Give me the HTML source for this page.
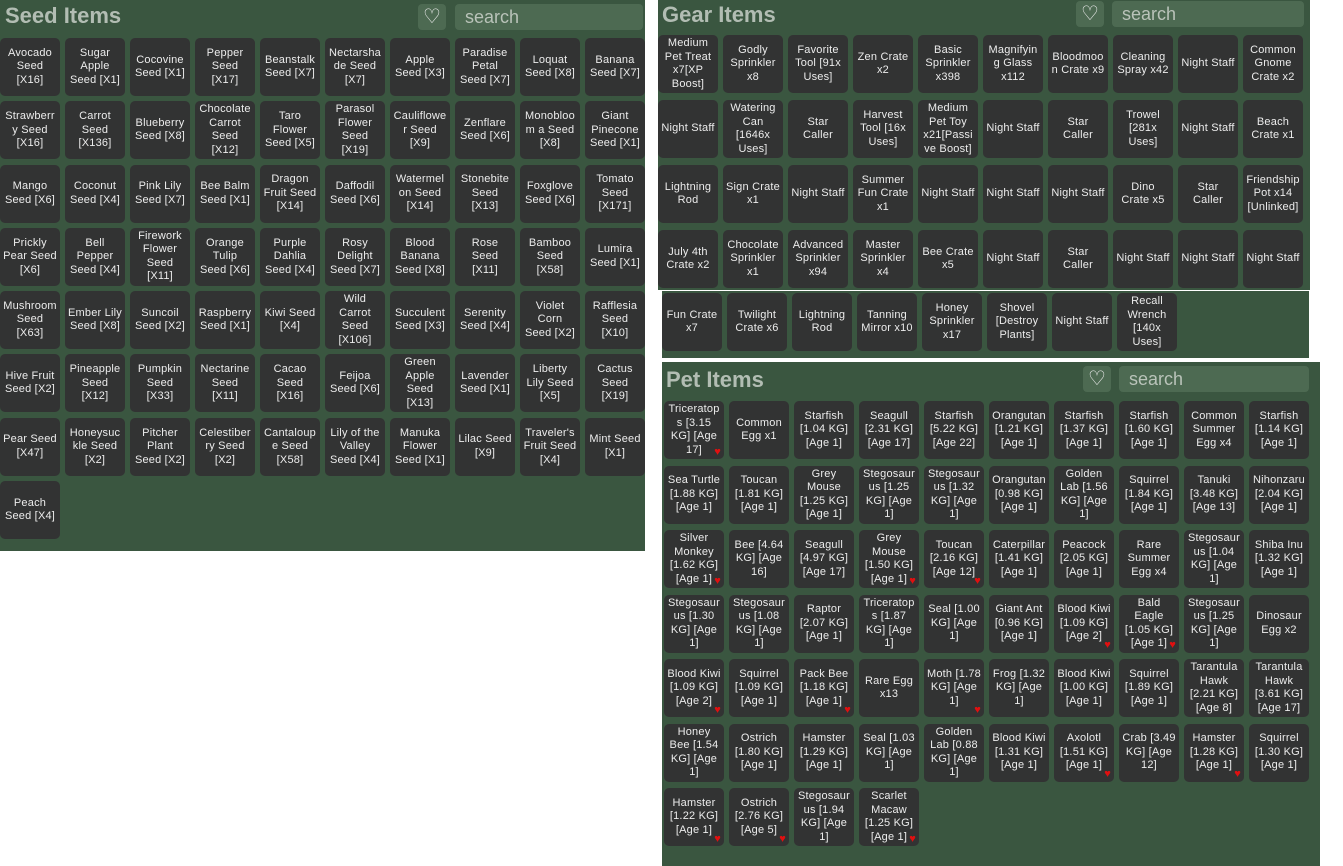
<!DOCTYPE html><html><head><style>
body{margin:0;width:1343px;height:866px;background:#fff;position:relative;overflow:hidden;font-family:"Liberation Sans",sans-serif}
.p{position:absolute;background:#3a5640;overflow:hidden}
.h{position:absolute;color:#c8cfc8;font-weight:bold;font-size:22px;opacity:.85}
.s{position:absolute;background:#4d6a52;border-radius:4px;color:#b9c3b9;font-size:18px;padding-left:10px;box-sizing:border-box;height:26px;line-height:26px}
.hb{position:absolute;width:28px;height:26px;background:#4d6a52;border-radius:4px;color:#eee;font-size:20px;text-align:center;line-height:26px}
.g{position:absolute;display:grid;grid-template-columns:repeat(10,60px);column-gap:5px;grid-auto-rows:58px}
.g div{background:#323333;border-radius:5px;color:#ececec;font-size:11px;line-height:13.5px;display:flex;align-items:center;justify-content:center;text-align:center;padding:0 3px;overflow:hidden;position:relative;overflow-wrap:anywhere;letter-spacing:.2px}
.r:after{content:"♥";position:absolute;right:3px;bottom:0;color:#e01010;font-size:11px}
</style></head><body>
<div class="p" style="left:0;top:0;width:645px;height:551px"></div>
<div class="h" style="left:5px;top:3px">Seed Items</div>
<div class="hb" style="left:418px;top:4px">♡</div>
<div class="s" style="left:455px;top:4px;width:188px">search</div>
<div class="g" style="left:0;top:38px;row-gap:5.3px">
<div>Avocado Seed [X16]</div><div>Sugar Apple Seed [X1]</div><div>Cocovine Seed [X1]</div><div>Pepper Seed [X17]</div><div>Beanstalk Seed [X7]</div><div>Nectarshade Seed [X7]</div><div>Apple Seed [X3]</div><div>Paradise Petal Seed [X7]</div><div>Loquat Seed [X8]</div><div>Banana Seed [X7]</div>
<div>Strawberry Seed [X16]</div><div>Carrot Seed [X136]</div><div>Blueberry Seed [X8]</div><div>Chocolate Carrot Seed [X12]</div><div>Taro Flower Seed [X5]</div><div>Parasol Flower Seed [X19]</div><div>Cauliflower Seed [X9]</div><div>Zenflare Seed [X6]</div><div>Monobloom a Seed [X8]</div><div>Giant Pinecone Seed [X1]</div>
<div>Mango Seed [X6]</div><div>Coconut Seed [X4]</div><div>Pink Lily Seed [X7]</div><div>Bee Balm Seed [X1]</div><div>Dragon Fruit Seed [X14]</div><div>Daffodil Seed [X6]</div><div>Watermelon Seed [X14]</div><div>Stonebite Seed [X13]</div><div>Foxglove Seed [X6]</div><div>Tomato Seed [X171]</div>
<div>Prickly Pear Seed [X6]</div><div>Bell Pepper Seed [X4]</div><div>Firework Flower Seed [X11]</div><div>Orange Tulip Seed [X6]</div><div>Purple Dahlia Seed [X4]</div><div>Rosy Delight Seed [X7]</div><div>Blood Banana Seed [X8]</div><div>Rose Seed [X11]</div><div>Bamboo Seed [X58]</div><div>Lumira Seed [X1]</div>
<div>Mushroom Seed [X63]</div><div>Ember Lily Seed [X8]</div><div>Suncoil Seed [X2]</div><div>Raspberry Seed [X1]</div><div>Kiwi Seed [X4]</div><div>Wild Carrot Seed [X106]</div><div>Succulent Seed [X3]</div><div>Serenity Seed [X4]</div><div>Violet Corn Seed [X2]</div><div>Rafflesia Seed [X10]</div>
<div>Hive Fruit Seed [X2]</div><div>Pineapple Seed [X12]</div><div>Pumpkin Seed [X33]</div><div>Nectarine Seed [X11]</div><div>Cacao Seed [X16]</div><div>Feijoa Seed [X6]</div><div>Green Apple Seed [X13]</div><div>Lavender Seed [X1]</div><div>Liberty Lily Seed [X5]</div><div>Cactus Seed [X19]</div>
<div>Pear Seed [X47]</div><div>Honeysuckle Seed [X2]</div><div>Pitcher Plant Seed [X2]</div><div>Celestiberry Seed [X2]</div><div>Cantaloupe Seed [X58]</div><div>Lily of the Valley Seed [X4]</div><div>Manuka Flower Seed [X1]</div><div>Lilac Seed [X9]</div><div>Traveler's Fruit Seed [X4]</div><div>Mint Seed [X1]</div>
<div>Peach Seed [X4]</div>
</div>

<div class="p" style="left:658px;top:0;width:652px;height:290px"></div>
<div class="h" style="left:662px;top:2px">Gear Items</div>
<div class="hb" style="left:1076px;top:1px">♡</div>
<div class="s" style="left:1112px;top:1px;width:192px">search</div>
<div class="g" style="left:658px;top:35px;row-gap:7px">
<div>Medium Pet Treat x7[XP Boost]</div><div>Godly Sprinkler x8</div><div>Favorite Tool [91x Uses]</div><div>Zen Crate x2</div><div>Basic Sprinkler x398</div><div>Magnifying Glass x112</div><div>Bloodmoon Crate x9</div><div>Cleaning Spray x42</div><div>Night Staff</div><div>Common Gnome Crate x2</div>
<div>Night Staff</div><div>Watering Can [1646x Uses]</div><div>Star Caller</div><div>Harvest Tool [16x Uses]</div><div>Medium Pet Toy x21[Passive Boost]</div><div>Night Staff</div><div>Star Caller</div><div>Trowel [281x Uses]</div><div>Night Staff</div><div>Beach Crate x1</div>
<div>Lightning Rod</div><div>Sign Crate x1</div><div>Night Staff</div><div>Summer Fun Crate x1</div><div>Night Staff</div><div>Night Staff</div><div>Night Staff</div><div>Dino Crate x5</div><div>Star Caller</div><div>Friendship Pot x14 [Unlinked]</div>
<div>July 4th Crate x2</div><div>Chocolate Sprinkler x1</div><div>Advanced Sprinkler x94</div><div>Master Sprinkler x4</div><div>Bee Crate x5</div><div>Night Staff</div><div>Star Caller</div><div>Night Staff</div><div>Night Staff</div><div>Night Staff</div>
</div>
<div class="p" style="left:662px;top:291px;width:647px;height:67px"></div>
<div class="g" style="left:662px;top:293px">
<div>Fun Crate x7</div><div>Twilight Crate x6</div><div>Lightning Rod</div><div>Tanning Mirror x10</div><div>Honey Sprinkler x17</div><div>Shovel [Destroy Plants]</div><div>Night Staff</div><div>Recall Wrench [140x Uses]</div>
</div>

<div class="p" style="left:662px;top:362px;width:658px;height:504px"></div>
<div class="h" style="left:666px;top:367px">Pet Items</div>
<div class="hb" style="left:1083px;top:366px">♡</div>
<div class="s" style="left:1119px;top:366px;width:190px">search</div>
<div class="g" style="left:664px;top:401px;row-gap:6.5px">
<div class="r">Triceratops [3.15 KG] [Age 17]</div><div>Common Egg x1</div><div>Starfish [1.04 KG] [Age 1]</div><div>Seagull [2.31 KG] [Age 17]</div><div>Starfish [5.22 KG] [Age 22]</div><div>Orangutan [1.21 KG] [Age 1]</div><div>Starfish [1.37 KG] [Age 1]</div><div>Starfish [1.60 KG] [Age 1]</div><div>Common Summer Egg x4</div><div>Starfish [1.14 KG] [Age 1]</div>
<div>Sea Turtle [1.88 KG] [Age 1]</div><div>Toucan [1.81 KG] [Age 1]</div><div>Grey Mouse [1.25 KG] [Age 1]</div><div>Stegosaurus [1.25 KG] [Age 1]</div><div>Stegosaurus [1.32 KG] [Age 1]</div><div>Orangutan [0.98 KG] [Age 1]</div><div>Golden Lab [1.56 KG] [Age 1]</div><div>Squirrel [1.84 KG] [Age 1]</div><div>Tanuki [3.48 KG] [Age 13]</div><div>Nihonzaru [2.04 KG] [Age 1]</div>
<div class="r">Silver Monkey [1.62 KG] [Age 1]</div><div>Bee [4.64 KG] [Age 16]</div><div>Seagull [4.97 KG] [Age 17]</div><div class="r">Grey Mouse [1.50 KG] [Age 1]</div><div class="r">Toucan [2.16 KG] [Age 12]</div><div>Caterpillar [1.41 KG] [Age 1]</div><div>Peacock [2.05 KG] [Age 1]</div><div>Rare Summer Egg x4</div><div>Stegosaurus [1.04 KG] [Age 1]</div><div>Shiba Inu [1.32 KG] [Age 1]</div>
<div>Stegosaurus [1.30 KG] [Age 1]</div><div>Stegosaurus [1.08 KG] [Age 1]</div><div>Raptor [2.07 KG] [Age 1]</div><div>Triceratops [1.87 KG] [Age 1]</div><div>Seal [1.00 KG] [Age 1]</div><div>Giant Ant [0.96 KG] [Age 1]</div><div class="r">Blood Kiwi [1.09 KG] [Age 2]</div><div class="r">Bald Eagle [1.05 KG] [Age 1]</div><div>Stegosaurus [1.25 KG] [Age 1]</div><div>Dinosaur Egg x2</div>
<div class="r">Blood Kiwi [1.09 KG] [Age 2]</div><div>Squirrel [1.09 KG] [Age 1]</div><div class="r">Pack Bee [1.18 KG] [Age 1]</div><div>Rare Egg x13</div><div class="r">Moth [1.78 KG] [Age 1]</div><div>Frog [1.32 KG] [Age 1]</div><div>Blood Kiwi [1.00 KG] [Age 1]</div><div>Squirrel [1.89 KG] [Age 1]</div><div>Tarantula Hawk [2.21 KG] [Age 8]</div><div>Tarantula Hawk [3.61 KG] [Age 17]</div>
<div>Honey Bee [1.54 KG] [Age 1]</div><div>Ostrich [1.80 KG] [Age 1]</div><div>Hamster [1.29 KG] [Age 1]</div><div>Seal [1.03 KG] [Age 1]</div><div>Golden Lab [0.88 KG] [Age 1]</div><div>Blood Kiwi [1.31 KG] [Age 1]</div><div class="r">Axolotl [1.51 KG] [Age 1]</div><div>Crab [3.49 KG] [Age 12]</div><div class="r">Hamster [1.28 KG] [Age 1]</div><div>Squirrel [1.30 KG] [Age 1]</div>
<div class="r">Hamster [1.22 KG] [Age 1]</div><div class="r">Ostrich [2.76 KG] [Age 5]</div><div>Stegosaurus [1.94 KG] [Age 1]</div><div class="r">Scarlet Macaw [1.25 KG] [Age 1]</div>
</div>
</body></html>
